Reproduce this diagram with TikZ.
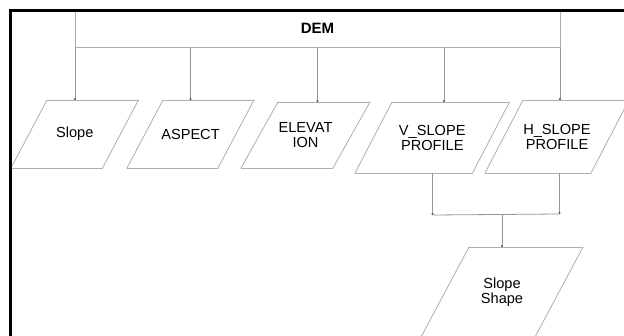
\documentclass[tikz,border=0pt]{standalone}
\usepackage{fontspec}
\setmainfont{Liberation Sans}
\usetikzlibrary{arrows.meta}

\definecolor{shapegray}{RGB}{175,175,175}
\definecolor{conngray}{RGB}{150,150,150}
\definecolor{dotgray}{RGB}{80,80,80}

\begin{document}
\begin{tikzpicture}[x=1pt,y=-1pt,
    shapeline/.style={draw=shapegray,line width=0.8pt,line cap=round},
    para/.style={rectangle,inner sep=0pt,outer sep=0pt,align=center,
      font=\fontsize{14.6}{15}\selectfont,
      append after command={
        ([xshift=-#1]\tikzlastnode.south west) edge[shapeline] ([xshift=#1]\tikzlastnode.north west)
        ([xshift=#1]\tikzlastnode.north west) edge[shapeline] ([xshift=#1]\tikzlastnode.north east)
        ([xshift=#1]\tikzlastnode.north east) edge[shapeline] ([xshift=-#1]\tikzlastnode.south east)
        ([xshift=-#1]\tikzlastnode.south east) edge[shapeline] ([xshift=-#1]\tikzlastnode.south west)}},
    conn/.style={draw=conngray,line width=0.8pt},
    dot/.style={-{Circle[length=2pt,color=dotgray]}}]

\useasboundingbox[fill=white] (0,0) rectangle (624,335);

% top box
\node[shapeline,minimum width=485pt,minimum height=37pt,inner sep=0pt,
  font=\bfseries\fontsize{15}{16}\selectfont] (dem) at (317.5,28.5) {DEM};

% first row
\node[para=18pt,minimum width=91.5pt,minimum height=68pt] (slope) at (74.75,134) {Slope};
\node[para=18pt,minimum width=91pt,minimum height=68pt] (aspect) at (190.5,134) {ASPECT};
\node[para=18.5pt,minimum width=92pt,minimum height=66pt] (elev) at (305.5,135) {ELEVAT\\ION};
\node[para=18.5pt,minimum width=117.5pt,minimum height=71pt] (vprof) at (432.25,137.5) {V\_SLOPE\\PROFILE};
\node[para=19pt,minimum width=106pt,minimum height=73pt] (hprof) at (557,136.5) {H\_SLOPE\\PROFILE};

% result
\node[para=24pt,minimum width=114pt,minimum height=90pt] (shape) at (502,292) {Slope\\Shape};

\foreach \x/\n in {75/slope,190.5/aspect,317.5/elev,444/vprof,560/hprof}
  \draw[conn,dot] (dem.south -| \x,0) -- (\n.north -| \x,0);

\coordinate (jl) at (432.5,215);
\coordinate (jr) at (559.5,214);
\coordinate (jm) at (502,215);

\path[conn]
(vprof.south -| jl) edge[dot] (jl)
(jr |- hprof.south) edge[dot] (jr)
(jl) edge (jr)
(jm) edge[dot] (shape.north)
;

% frame
\draw[line width=2.5pt] (10.5,350) -- (10.5,10.5) -- (640,10.5);

\end{tikzpicture}
\end{document}
